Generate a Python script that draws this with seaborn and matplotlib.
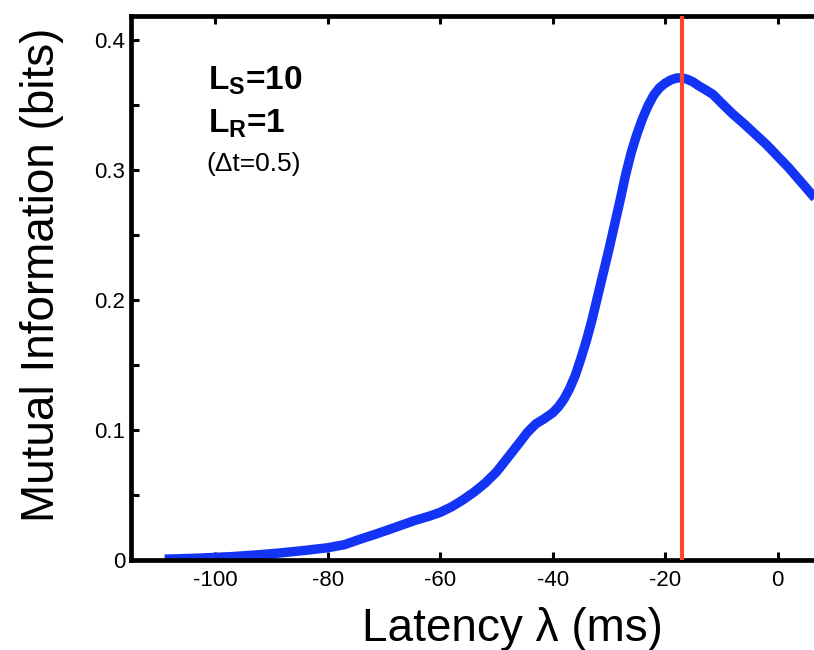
import matplotlib
matplotlib.use("Agg")
import matplotlib.pyplot as plt
from matplotlib.ticker import MultipleLocator
import pandas as pd
import seaborn as sns

# Mutual information between stimulus and response as a function of latency
latency_ms = [-109, -103, -97, -92, -88, -84, -80, -77, -74.5, -72, -69.5,
              -67, -64.5, -62, -60, -58, -56, -54, -52, -50, -48, -46,
              -44.5, -43, -41.5, -40, -39, -38, -37, -36, -35, -34, -33,
              -32, -31, -30, -29, -28, -27, -26, -25, -24, -23, -22, -21,
              -20, -19, -18, -17, -16, -15, -14, -13, -11.5, -10, -8, -6,
              -4, -2, 0, 2, 4, 6, 7]
mutual_info_bits = [0.001, 0.0018, 0.003, 0.0045, 0.006, 0.0078, 0.0098,
                    0.0122, 0.0160, 0.0195, 0.0232, 0.0270, 0.0308, 0.0340,
                    0.0370, 0.0412, 0.0465, 0.0525, 0.0595, 0.068, 0.079,
                    0.090, 0.0985, 0.105, 0.109, 0.1135, 0.118, 0.124, 0.132,
                    0.142, 0.155, 0.169, 0.185, 0.203, 0.221, 0.239, 0.258,
                    0.277, 0.297, 0.314, 0.328, 0.340, 0.350, 0.358, 0.3635,
                    0.367, 0.3695, 0.371, 0.3712, 0.370, 0.368, 0.365,
                    0.3625, 0.3585, 0.352, 0.3435, 0.336, 0.328, 0.320,
                    0.311, 0.302, 0.292, 0.282, 0.277]
peak_latency_ms = -17.0

x_ticks = [-100, -80, -60, -40, -20, 0]
y_ticks = [0, 0.1, 0.2, 0.3, 0.4]
y_tick_labels = ["0", "0.1", "0.2", "0.3", "0.4"]

param_lines = [r"$\mathbf{L_S}$=10", r"$\mathbf{L_R}$=1"]
bin_note = "(Δt=0.5)"

sns.set_theme(style="white")
plt.rcParams["font.family"] = ["Liberation Sans", "DejaVu Sans"]
plt.rcParams["mathtext.fontset"] = "custom"
plt.rcParams["mathtext.rm"] = "Liberation Sans"
plt.rcParams["mathtext.bf"] = "Liberation Sans:bold"
plt.rcParams["mathtext.it"] = "Liberation Sans:italic"
plt.rcParams["axes.unicode_minus"] = False
for key in ["text.color", "axes.labelcolor", "xtick.color", "ytick.color",
            "axes.edgecolor"]:
    plt.rcParams[key] = "black"

fig = plt.figure(figsize=(8.14, 6.5), dpi=100)
ax = fig.add_axes([0.1609, 0.1377, 0.9324, 0.8382])

df = pd.DataFrame({"latency": latency_ms, "mi": mutual_info_bits})
sns.lineplot(data=df, x="latency", y="mi", ax=ax, sort=False,
             estimator=None, color="#1434F5", linewidth=6.8,
             solid_capstyle="butt", solid_joinstyle="round", zorder=2)
ax.axvline(peak_latency_ms, color="#FF4433", linewidth=3.0, zorder=3)

ax.set_xlim(-115, 20)
ax.set_ylim(0, 0.419)
ax.set_xticks(x_ticks)
ax.xaxis.set_minor_locator(MultipleLocator(20))
ax.set_yticks(y_ticks, labels=y_tick_labels)
ax.yaxis.set_minor_locator(MultipleLocator(0.05))

for side in ["left", "right", "top", "bottom"]:
    ax.spines[side].set_visible(True)
    ax.spines[side].set_linewidth(3.4)
    ax.spines[side].set_color("black")

ax.tick_params(which="both", direction="in", length=5.5, width=2.2,
               top=True, bottom=True, left=True, right=True,
               labelsize=16)
ax.tick_params(axis="x", pad=7)
ax.tick_params(axis="y", pad=4)

ax.set_xlabel("Latency λ (ms)", fontsize=33)
ax.set_ylabel("Mutual Information (bits)", fontsize=33)
ax.xaxis.set_label_coords(0.5026, -0.085)
ax.yaxis.set_label_coords(-0.088, 0.525)

ax.text(-101.3, 0.3619, param_lines[0], fontsize=24, fontweight="bold",
        va="baseline", ha="left")
ax.text(-101.3, 0.3288, param_lines[1], fontsize=24, fontweight="bold",
        va="baseline", ha="left")
ax.text(-101.5, 0.2996, bin_note, fontsize=19, va="baseline", ha="left")

fig.savefig("out.png", dpi=100)
